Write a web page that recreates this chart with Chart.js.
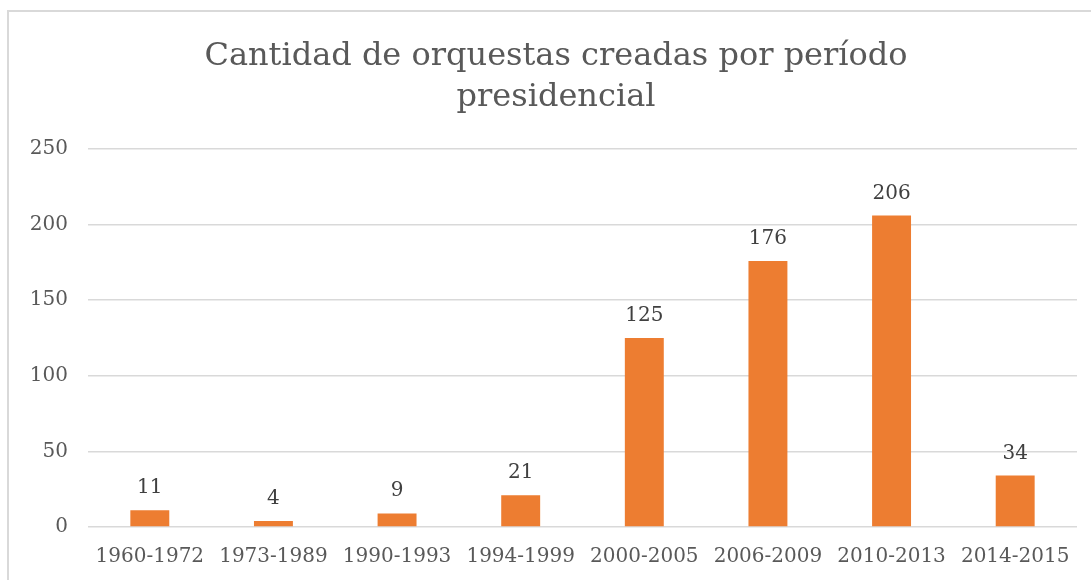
<!DOCTYPE html>
<html>
<head>
<meta charset="utf-8">
<script src="https://cdn.jsdelivr.net/npm/chart.js@4/dist/chart.umd.min.js"></script>
<style>
  html, body { margin: 0; padding: 0; background: #fff; overflow: hidden; }
  #frame {
    position: absolute; left: 7px; top: 10px; width: 1200px; height: 700px;
    border: 2px solid #d9d9d9;
  }
  #wrap { position: absolute; left: 0; top: 0; width: 1091px; height: 580px; }
</style>
</head>
<body>
<div id="frame"></div>
<div id="wrap"><canvas id="chart"></canvas></div>
<script>
const periods = ["1960-1972", "1973-1989", "1990-1993", "1994-1999", "2000-2005", "2006-2009", "2010-2013", "2014-2015"];
const orchestras = [11, 4, 9, 21, 125, 176, 206, 34];
const titleLines = ["Cantidad de orquestas creadas por período", "presidencial"];

const FONT = "'DejaVu Serif', Georgia, serif";

// values above the bars
const barLabels = {
  id: "barLabels",
  afterDatasetsDraw(chart) {
    const ctx = chart.ctx;
    const meta = chart.getDatasetMeta(0);
    ctx.save();
    ctx.font = "20px " + FONT;
    ctx.fillStyle = "#404040";
    ctx.textAlign = "center";
    ctx.textBaseline = "alphabetic";
    meta.data.forEach((bar, i) => {
      ctx.fillText(String(orchestras[i]), bar.x, bar.y - 17);
    });
    ctx.restore();
  },
};

// title is centred on the outer frame, not on the plot, so draw it here
const frameTitle = {
  id: "frameTitle",
  afterDraw(chart) {
    const ctx = chart.ctx;
    ctx.save();
    ctx.font = "32px " + FONT;
    ctx.fillStyle = "#595959";
    ctx.textAlign = "center";
    ctx.textBaseline = "alphabetic";
    titleLines.forEach((line, i) => {
      ctx.fillText(line, 556, 65 + i * 41);
    });
    ctx.restore();
  },
};

new Chart(document.getElementById("chart"), {
  type: "bar",
  data: {
    labels: periods,
    datasets: [{
      data: orchestras,
      backgroundColor: "#ED7D31",
      barPercentage: 0.315,
      categoryPercentage: 1,
    }],
  },
  options: {
    responsive: true,
    maintainAspectRatio: false,
    animation: false,
    layout: { padding: { left: 0, right: 14, top: 149, bottom: 0 } },
    plugins: {
      legend: { display: false },
      tooltip: { enabled: false },
      title: { display: false },
    },
    scales: {
      x: {
        grid: { display: false, drawTicks: false },
        border: { display: false },
        ticks: {
          color: "#595959",
          font: { family: FONT, size: 20 },
          padding: 18,
          maxRotation: 0,
          autoSkip: false,
        },
        afterFit(scale) { scale.height = 53; },
      },
      y: {
        min: 0,
        max: 250,
        ticks: {
          stepSize: 50,
          color: "#595959",
          font: { family: FONT, size: 20 },
          padding: 20,
        },
        grid: { color: "#d9d9d9", lineWidth: 1.5, drawTicks: false },
        border: { display: false },
        afterFit(scale) { scale.width = 88; },
      },
    },
  },
  plugins: [barLabels, frameTitle],
});
</script>
</body>
</html>
